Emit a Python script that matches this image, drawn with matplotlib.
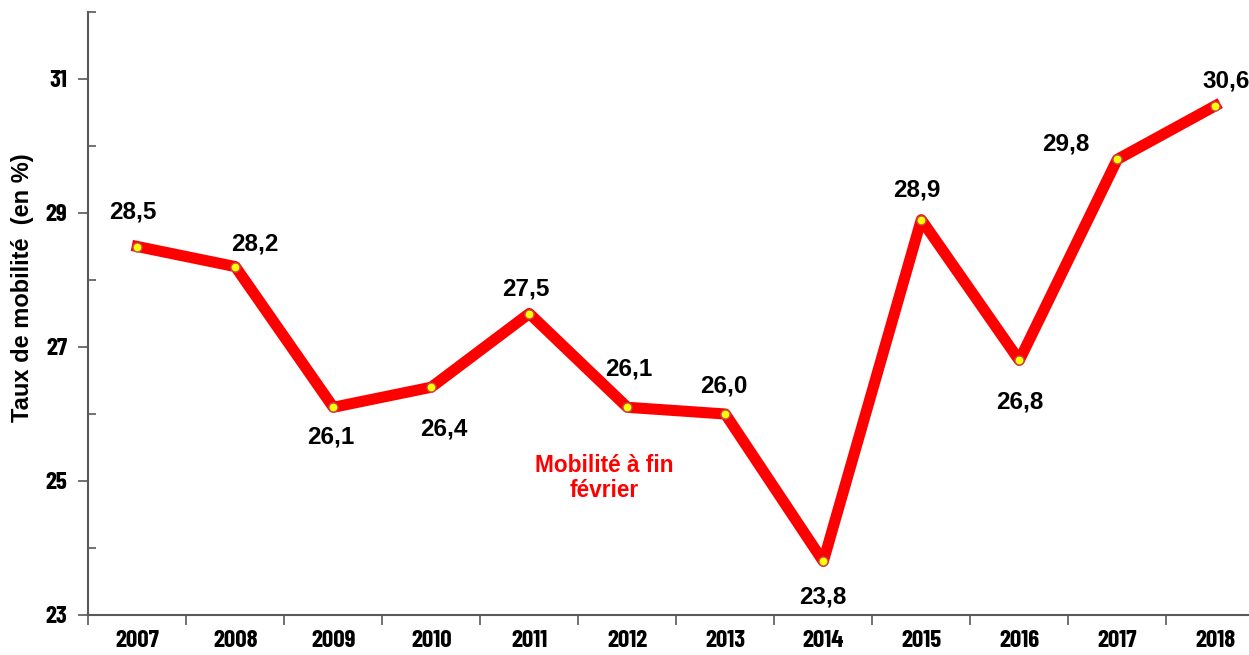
import matplotlib
matplotlib.use("Agg")
import matplotlib.pyplot as plt
from matplotlib.ticker import FixedLocator, NullFormatter

# data
years = ["2007", "2008", "2009", "2010", "2011", "2012",
         "2013", "2014", "2015", "2016", "2017", "2018"]
rates = [28.5, 28.2, 26.1, 26.4, 27.5, 26.1, 26.0, 23.8, 28.9, 26.8, 29.8, 30.6]
labels = ["28,5", "28,2", "26,1", "26,4", "27,5", "26,1",
          "26,0", "23,8", "28,9", "26,8", "29,8", "30,6"]

# label offsets in pixels (dx, dy)
offsets = [(-4, 34), (20, 23), (-3, -30), (13, -42), (-3, 24), (1, 38),
           (-1, 28), (0, -36), (-4, 30), (1, -42), (-51, 15), (11, 25)]

narrow = ["Barlow Condensed", "Barlow Semi Condensed", "Liberation Sans"]
arial = ["Liberation Sans", "DejaVu Sans"]

fig = plt.figure(figsize=(12.49, 6.55), dpi=100)
ax = fig.add_axes([88.3 / 1249, 1 - 615 / 655, 1 - 88.3 / 1249, (615 - 12) / 655])

x = list(range(len(years)))
ax.plot(x, rates, color="#FF0000", linewidth=8, zorder=2)
ax.plot(x, rates, linestyle="none", marker="o", markersize=6.5,
        markerfacecolor="#FFFF00", markeredgecolor="#C0504D",
        markeredgewidth=1.0, zorder=3)

for xi, yi, lab, (dx, dy) in zip(x, rates, labels, offsets):
    ax.annotate(lab, (xi, yi), xytext=(dx, dy), textcoords="offset pixels",
                ha="center", va="center", fontsize=17.5, fontweight="bold",
                family=arial, color="black")

ax.text(4.76, 25.04, "Mobilité à fin\nfévrier", ha="center", va="center",
        fontsize=16.3, fontweight="bold", family=arial, color="#FF0000",
        linespacing=1.1)

ax.yaxis.set_major_locator(FixedLocator([23, 25, 27, 29, 31]))
ax.yaxis.set_minor_locator(FixedLocator([24, 26, 28, 30, 32]))
ax.tick_params(axis="y", which="major", direction="out", length=7,
               width=1.2, color="#595959", pad=8)
ax.tick_params(axis="y", which="minor", direction="in", length=6,
               width=1.2, color="#595959")

ax.set_xticks(x)
ax.set_xticklabels(years)
ax.set_xticks([i - 0.5 for i in range(len(years) + 1)], minor=True)
ax.xaxis.set_minor_formatter(NullFormatter())
ax.tick_params(axis="x", which="major", length=0, pad=11)
ax.tick_params(axis="x", which="minor", direction="out", length=7,
               width=1.2, color="#595959")

# limits after ticks, so the tick list does not widen them
ax.set_ylim(23, 32)
ax.set_xlim(-0.5, (1249 - 88.3) / 98 - 0.5)

for t in ax.get_xticklabels() + ax.get_yticklabels():
    t.set_family(narrow)
    t.set_fontweight("bold")
    t.set_fontsize(18)

fig.text(23 / 1249, 1 - 287.5 / 655, "Taux de mobilité  (en %)", rotation=90,
         ha="center", va="center", fontsize=17, fontweight="bold",
         family=arial)

for side in ["top", "right"]:
    ax.spines[side].set_visible(False)
for side in ["left", "bottom"]:
    ax.spines[side].set_color("#595959")
    ax.spines[side].set_linewidth(1.5)

fig.savefig("out.png", dpi=100)
